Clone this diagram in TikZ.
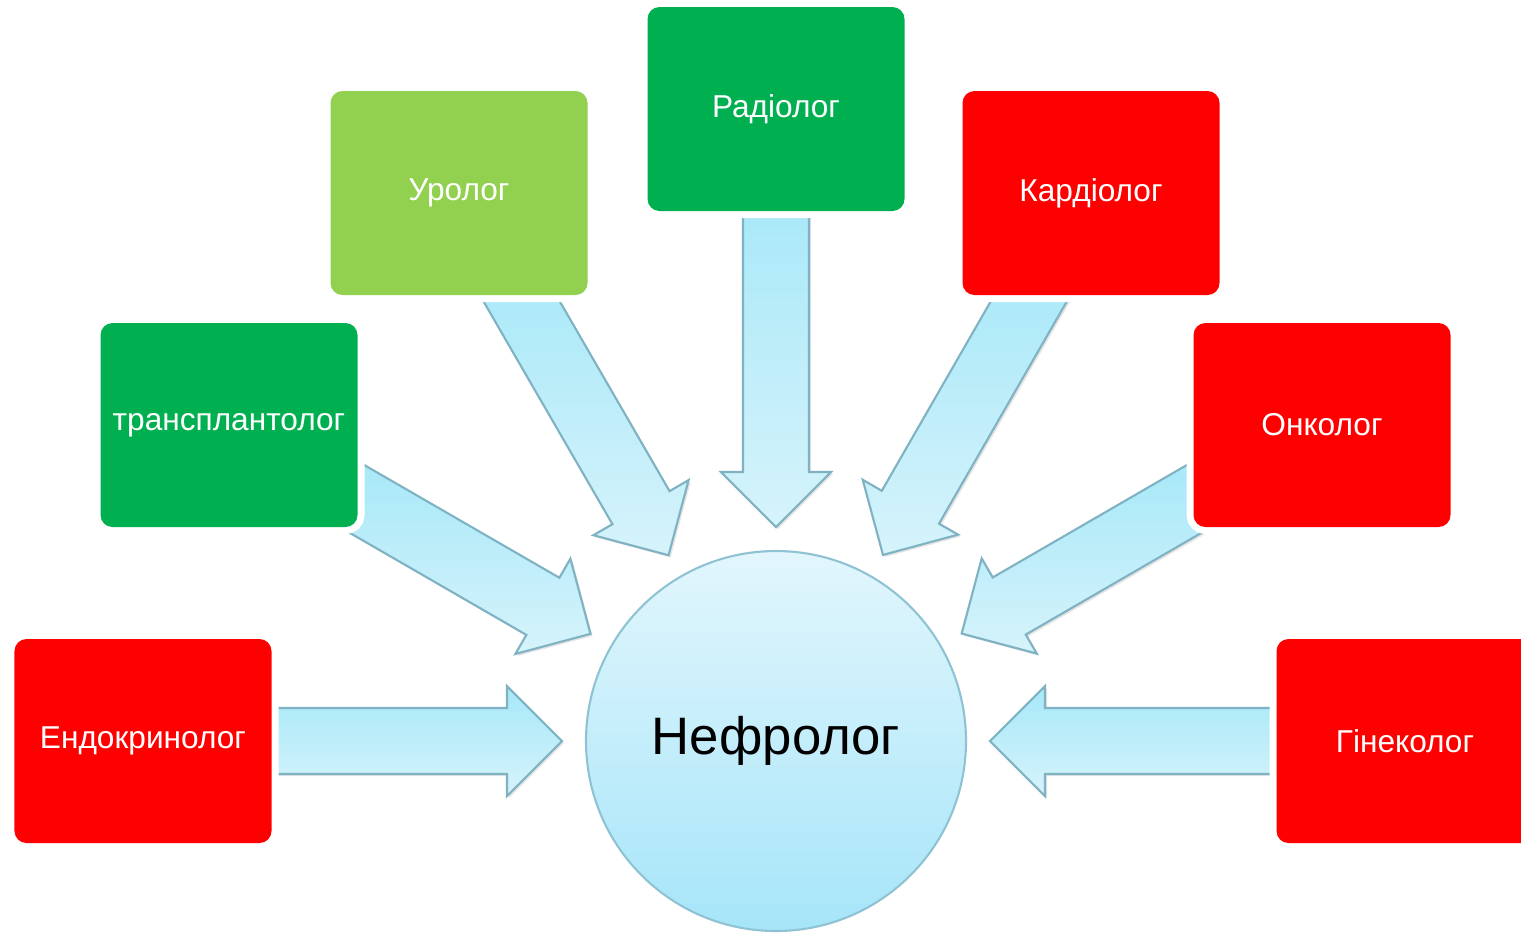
\documentclass[tikz,border=0pt]{standalone}
\usepackage{fontspec}
\setmainfont{Liberation Sans}
\usetikzlibrary{calc,backgrounds,shadows}
\definecolor{boxred}{HTML}{FF0000}
\definecolor{boxgreen}{HTML}{00B050}
\definecolor{boxlime}{HTML}{92D050}
\definecolor{arrowline}{HTML}{7FB2C2}
\definecolor{arrowtop}{HTML}{A6E8F8}
\definecolor{arrowbot}{HTML}{D6F3FB}
\definecolor{ballline}{HTML}{8FC3D3}
\definecolor{balltop}{HTML}{E2F6FC}
\definecolor{ballbot}{HTML}{A6E5F9}

% wide block arrow from node #1 towards node #2
\newcommand{\bigarrow}[2]{%
  \path (#1) -- (#2) coordinate[pos=0] (tail) coordinate[pos=1] (tip);
  \draw[blockarrow] let \p1=($(tip)-(tail)$), \n1={atan2(\y1,\x1)}, \n2={veclen(\x1,\y1)} in
    [shift={(tail)}, rotate=\n1]
    (-0.3cm,-0.33cm) -- ({\n2-0.79cm},-0.33cm) -- ({\n2-0.79cm},-0.55cm)
    -- ({\n2-0.24cm},0cm) -- ({\n2-0.79cm},0.55cm) -- ({\n2-0.79cm},0.33cm)
    -- (-0.3cm,0.33cm) -- cycle;
}

\begin{document}
\begin{tikzpicture}[
  card/.style={rectangle, rounded corners=0.12cm, minimum width=2.57cm, minimum height=2.04cm,
    inner sep=0pt, outer sep=0pt, text=white, font=\fontsize{9}{11}\selectfont,
    preaction={draw=white, line width=0.14cm}},
  ball/.style={circle, minimum size=3.8cm, inner sep=0pt, outer sep=0pt, draw=ballline,
    line width=0.6pt, top color=balltop, bottom color=ballbot, font=\fontsize{15}{18}\selectfont},
  blockarrow/.style={draw=arrowline, line width=0.6pt, top color=arrowtop, bottom color=arrowbot,
    line join=miter, drop shadow={shadow xshift=0.6pt, shadow yshift=-0.6pt, opacity=0.2}}
]
  \useasboundingbox (0,0) rectangle (15.21,-9.34);

  \node[ball] (nefro) at (7.76,-7.41) {Нефролог};

  \node[card, fill=boxred] (endo) at (1.43,-7.41) {Ендокринолог};
  \node[card, fill=boxgreen] (transpl) at (2.29,-4.25) {трансплантолог};
  \node[card, fill=boxlime] (uro) at (4.59,-1.93) {Уролог};
  \node[card, fill=boxgreen] (radio) at (7.76,-1.09) {Радіолог};
  \node[card, fill=boxred] (kardio) at (10.91,-1.93) {Кардіолог};
  \node[card, fill=boxred] (onko) at (13.22,-4.25) {Онколог};
  \node[card, fill=boxred] (gineko) at (14.05,-7.41) {Гінеколог};

  \begin{scope}[on background layer]
    \fill[white] (0,0) rectangle (15.21,-9.34);
    \bigarrow{endo}{nefro}
    \bigarrow{transpl}{nefro}
    \bigarrow{uro}{nefro}
    \bigarrow{radio}{nefro}
    \bigarrow{kardio}{nefro}
    \bigarrow{onko}{nefro}
    \bigarrow{gineko}{nefro}
  \end{scope}
\end{tikzpicture}
\end{document}
